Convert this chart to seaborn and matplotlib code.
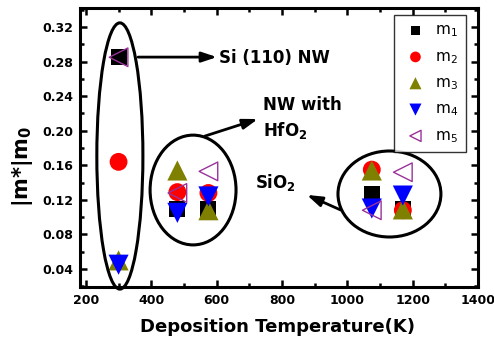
import matplotlib
matplotlib.use("Agg")
import matplotlib.pyplot as plt
import seaborn as sns
import pandas as pd
from matplotlib.patches import Ellipse
from matplotlib.ticker import MultipleLocator

temps = [300, 480, 575, 1075, 1170]
m1 = [0.285, 0.110, 0.109, 0.127, 0.110]
m2 = [0.164, 0.129, 0.128, 0.155, 0.108]
m3 = [0.050, 0.154, 0.108, 0.154, 0.109]
m4 = [0.045, 0.105, 0.124, 0.110, 0.125]
m5 = [0.285, 0.128, 0.153, 0.108, 0.152]
series_names = ["m$_1$", "m$_2$", "m$_3$", "m$_4$", "m$_5$"]
xtick_labels = ["200", "400", "600", "800", "1000", "1200", "1400"]

sns.set_style("ticks")
plt.rcParams['font.family'] = ['DejaVu Sans']
plt.rcParams['mathtext.default'] = 'regular'
for k in ['text.color', 'axes.labelcolor', 'xtick.color', 'ytick.color', 'axes.edgecolor']:
    plt.rcParams[k] = 'black'

fig = plt.figure(figsize=(4.94, 3.43), dpi=100)
ax = fig.add_axes([80/494, 56/343, 398/494, 279/343])

styles = [
    dict(marker='s', color='black', s=133),
    dict(marker='o', color='red', s=165),
    dict(marker='^', color='#808000', s=210),
    dict(marker='v', color='blue', s=210),
    dict(marker='<', color='#993399', s=180),
]
for name, vals, st in zip(series_names, [m1, m2, m3, m4, m5], styles):
    df = pd.DataFrame({"T": temps, "m": vals})
    if st['marker'] == '<':
        sns.scatterplot(data=df, x="T", y="m", ax=ax, marker='<', s=st['s'],
                        facecolor='none', edgecolor=st['color'], linewidth=1.0,
                        label=name, zorder=3)
    else:
        sns.scatterplot(data=df, x="T", y="m", ax=ax, marker=st['marker'], s=st['s'],
                        color=st['color'], edgecolor='none', label=name, zorder=3)

# group ellipses
for (cx, cy, w, h) in [(304, 0.1708, 141, 0.308), (528, 0.1314, 263, 0.127),
                       (1129, 0.1268, 315, 0.0995)]:
    ax.add_patch(Ellipse((cx, cy), w, h, fill=False, edgecolor='black', lw=2.2,
                         zorder=4, clip_on=False))

arrowprops = dict(arrowstyle='-|>,head_length=0.9,head_width=0.3', color='black',
                  lw=2.0, shrinkA=0, shrinkB=0)
tf = dict(fontsize=12, fontweight='bold', color='black', transform=ax.transAxes,
          va='baseline', ha='left')
# Si (110) NW
ax.annotate("", xy=(0.344, 0.824), xytext=(0.146, 0.824), xycoords='axes fraction',
            textcoords='axes fraction', arrowprops=arrowprops)
ax.text(0.349, 0.803, "Si (110) NW", **tf)
# NW with HfO2
ax.annotate("", xy=(0.447, 0.602), xytext=(0.314, 0.541), xycoords='axes fraction',
            textcoords='axes fraction', arrowprops=arrowprops)
ax.text(0.460, 0.634, "NW with", **tf)
ax.text(0.460, 0.541, "HfO$_2$", **tf)
# SiO2
ax.annotate("", xy=(0.570, 0.330), xytext=(0.655, 0.276), xycoords='axes fraction',
            textcoords='axes fraction', arrowprops=arrowprops)
ax.text(0.440, 0.355, "SiO$_2$", **tf)

ax.set_xlim(182, 1400)
ax.set_ylim(0.0192, 0.342)
ax.set_xticks([200, 400, 600, 800, 1000, 1200, 1400])
ax.set_xticklabels(xtick_labels)
ax.xaxis.set_minor_locator(MultipleLocator(100))
ax.yaxis.set_major_locator(MultipleLocator(0.04))
ax.yaxis.set_minor_locator(MultipleLocator(0.02))
ax.tick_params(which='both', direction='in', top=True, right=True, width=1.8,
               color='black', labelcolor='black')
ax.tick_params(which='major', length=5, labelsize=9, pad=5)
ax.tick_params(which='minor', length=3)
for lbl in ax.get_xticklabels() + ax.get_yticklabels():
    lbl.set_fontweight('bold')
for sp in ax.spines.values():
    sp.set_linewidth(2.2)
    sp.set_color('black')

ax.set_xlabel("Deposition Temperature(K)", fontsize=13, fontweight='bold', color='black')
ax.xaxis.set_label_coords(0.497, -0.11)
ax.set_ylabel("|m*|m$_0$", fontsize=15, fontweight='bold', color='black')
ax.yaxis.set_label_coords(-0.113, 0.434)

leg = ax.legend(loc='upper right', frameon=True, fancybox=False, edgecolor='black',
                prop=dict(size=11, weight='normal'), markerscale=0.6,
                handletextpad=0.4, labelspacing=0.63, borderpad=0.5,
                borderaxespad=0.0, bbox_to_anchor=(0.970, 0.975), handlelength=1.8)
leg.get_frame().set_linewidth(1.0)
for t in leg.get_texts():
    t.set_color('black')

fig.savefig("out.png", dpi=100)
